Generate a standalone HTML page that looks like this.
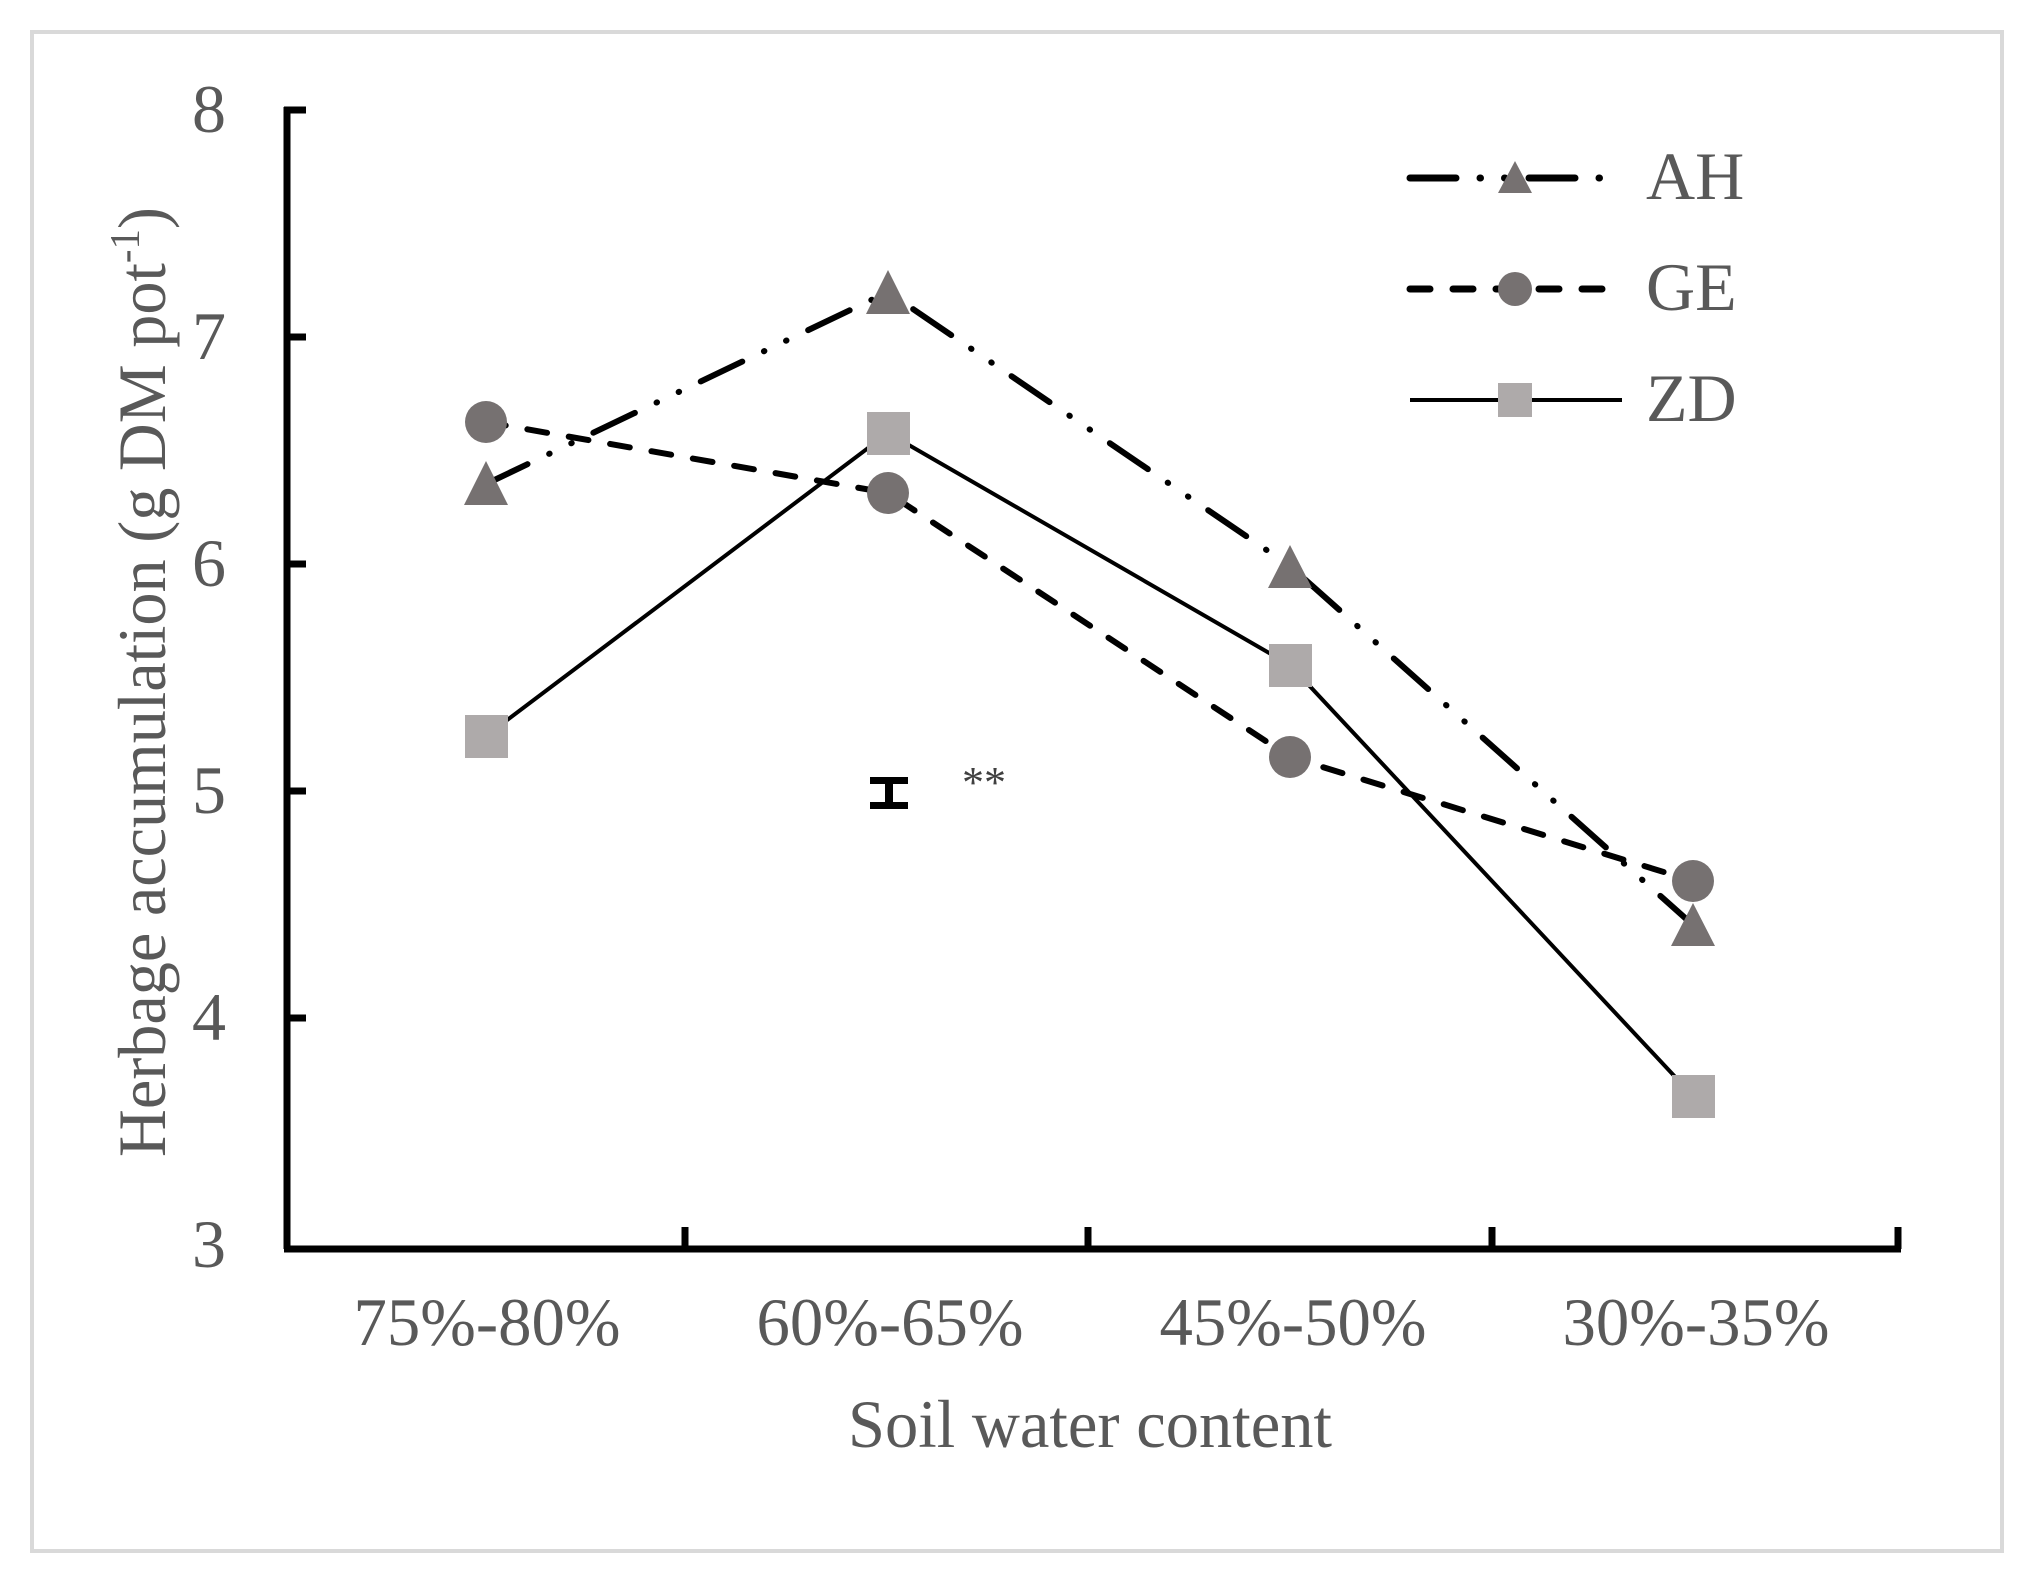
<!DOCTYPE html>
<html><head><meta charset="utf-8"><style>html,body{margin:0;padding:0;background:#fff}</style></head>
<body>
<svg width="2038" height="1581" viewBox="0 0 2038 1581" xmlns="http://www.w3.org/2000/svg" font-family="'Liberation Serif', serif" fill="#595959">
<rect x="0" y="0" width="2038" height="1581" fill="#fff"/>
<rect x="32" y="32" width="1970" height="1519" fill="none" stroke="#d9d9d9" stroke-width="4"/>
<g stroke="#000" stroke-width="7" fill="none">
<line x1="287" y1="107" x2="287" y2="1249"/>
<line x1="284" y1="1249" x2="1901" y2="1249"/>
<line x1="284" y1="110" x2="306" y2="110"/>
<line x1="284" y1="337" x2="306" y2="337"/>
<line x1="284" y1="564" x2="306" y2="564"/>
<line x1="284" y1="791" x2="306" y2="791"/>
<line x1="284" y1="1018" x2="306" y2="1018"/>
<line x1="685" y1="1249" x2="685" y2="1227"/>
<line x1="1088" y1="1249" x2="1088" y2="1227"/>
<line x1="1492" y1="1249" x2="1492" y2="1227"/>
<line x1="1898" y1="1249" x2="1898" y2="1227"/>
</g>
<g font-size="68" text-anchor="end">
<text x="226" y="132">8</text>
<text x="226" y="359">7</text>
<text x="226" y="586">6</text>
<text x="226" y="813">5</text>
<text x="226" y="1040">4</text>
<text x="226" y="1267">3</text>
</g>
<g font-size="68" text-anchor="middle">
<text x="487" y="1345" textLength="267" lengthAdjust="spacingAndGlyphs">75%-80%</text>
<text x="890" y="1345" textLength="267" lengthAdjust="spacingAndGlyphs">60%-65%</text>
<text x="1293" y="1345" textLength="267" lengthAdjust="spacingAndGlyphs">45%-50%</text>
<text x="1696" y="1345" textLength="267" lengthAdjust="spacingAndGlyphs">30%-35%</text>
<text x="1090" y="1447" textLength="484" lengthAdjust="spacingAndGlyphs">Soil water content</text>
</g>
<text transform="translate(165,682) rotate(-90)" font-size="68" text-anchor="middle" textLength="950" lengthAdjust="spacingAndGlyphs">Herbage accumulation (g DM pot<tspan font-size="42" dy="-26">-1</tspan><tspan dy="26">)</tspan></text>
<polyline points="486,484 888,292 1290,566 1693,925" fill="none" stroke="#000" stroke-width="6" stroke-linecap="round" stroke-dasharray="46 24 0.5 24 0.5 24"/>
<polyline points="486,422 888,493 1290,757 1693,881" fill="none" stroke="#000" stroke-width="6" stroke-linecap="round" stroke-dasharray="20 22"/>
<polyline points="486,736 888,433 1290,665 1693,1096" fill="none" stroke="#000" stroke-width="4"/>
<g fill="#767171">
<polygon points="486,461 508,505 464,505"/>
<polygon points="888,270 910,314 866,314"/>
<polygon points="1290,545 1312,588 1268,588"/>
<polygon points="1693,903 1715,946 1671,946"/>
<ellipse cx="486" cy="422" rx="21" ry="21"/>
<ellipse cx="888" cy="493" rx="21" ry="21"/>
<ellipse cx="1290" cy="757" rx="21" ry="21"/>
<ellipse cx="1693" cy="881" rx="21" ry="21"/>
</g>
<g fill="#aeaaaa">
<rect x="465" y="715" width="43" height="43"/>
<rect x="867" y="412" width="43" height="43"/>
<rect x="1269" y="644" width="43" height="43"/>
<rect x="1672" y="1075" width="43" height="43"/>
</g>
<g fill="#000">
<rect x="870" y="777" width="38" height="7"/>
<rect x="870" y="802" width="38" height="7"/>
<rect x="885" y="777" width="8" height="32"/>
</g>
<text x="962" y="797" font-size="44" fill="#404040">**</text>
<line x1="1410" y1="178" x2="1622" y2="178" stroke="#000" stroke-width="7" stroke-linecap="round" stroke-dasharray="46 24 0.5 24 0.5 24"/>
<polygon points="1515,161 1532,193 1498,193" fill="#767171"/>
<line x1="1410" y1="289" x2="1622" y2="289" stroke="#000" stroke-width="7" stroke-linecap="round" stroke-dasharray="20 23"/>
<circle cx="1515" cy="289" r="17" fill="#767171"/>
<line x1="1410" y1="400" x2="1622" y2="400" stroke="#000" stroke-width="4"/>
<rect x="1498" y="383" width="34" height="34" fill="#aeaaaa"/>
<g font-size="68">
<text x="1646" y="199">AH</text>
<text x="1646" y="310">GE</text>
<text x="1646" y="421">ZD</text>
</g>
</svg>
</body></html>
